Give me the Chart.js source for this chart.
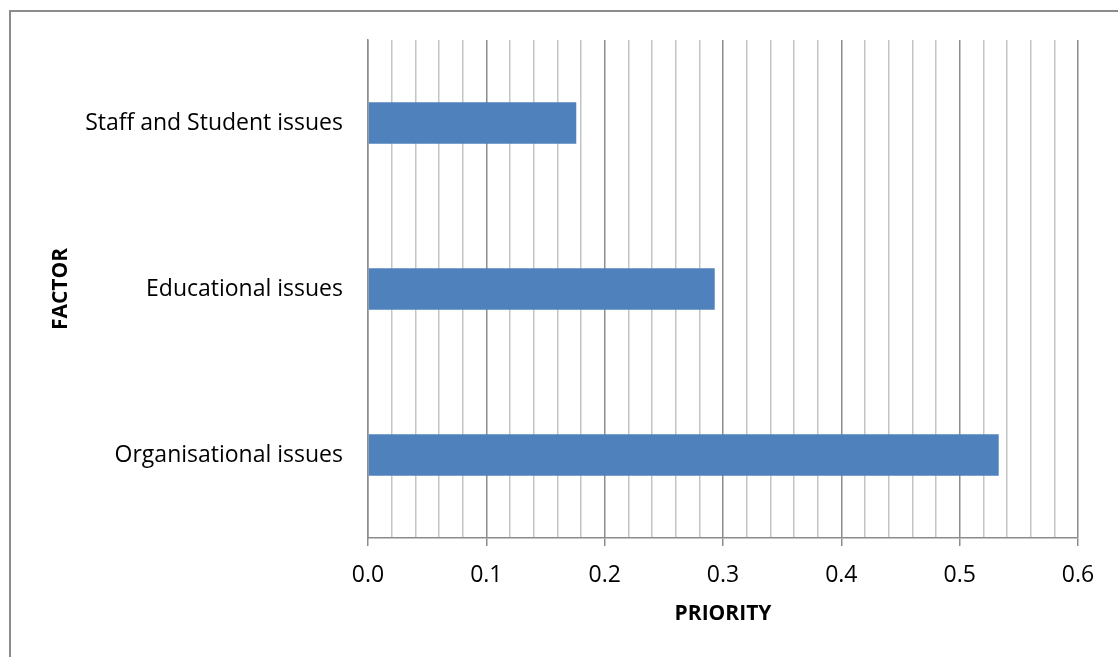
<!DOCTYPE html>
<html>
<head>
<meta charset="utf-8">
<script src="https://cdn.jsdelivr.net/npm/chart.js@4"></script>
<style>
  html, body { margin: 0; padding: 0; background: #fff; overflow: hidden; }
  #wrap { position: relative; width: 1118px; height: 657px; }
  #frame { position: absolute; left: 9px; top: 10px; width: 1200px; height: 800px;
           border: 2px solid #8c8c8c; box-sizing: border-box; }
  canvas { position: absolute; left: 0; top: 0; }
</style>
</head>
<body>
<div id="wrap">
  <div id="frame"></div>
  <canvas id="chart" width="1118" height="657"></canvas>
</div>
<script>
const factors = ["Staff and Student issues", "Educational issues", "Organisational issues"];
const priority = [0.176, 0.293, 0.533];
const axisMin = 0;
const axisMax = 0.6;
const minorStep = 0.02;

const FONT = "'Open Sans', Lato, sans-serif";
const majorGrid = "#8c8c8c";
const minorGrid = "#c4c4c4";

function isMajor(ctx) {
    return ctx.index % 5 === 0;
}

const canvas = document.getElementById("chart");
const ctx = canvas.getContext("2d");

new Chart(ctx, {
    type: "bar",
    data: {
        labels: factors,
        datasets: [
            {
                label: "Priority",
                data: priority,
                backgroundColor: "#4f81bd",
                categoryPercentage: 0.25,
                barPercentage: 1.0
            }
        ]
    },
    options: {
        indexAxis: "y",
        responsive: false,
        animation: false,
        layout: { padding: { left: 48, right: 40, top: 40, bottom: 30 } },
        plugins: { legend: { display: false }, tooltip: { enabled: false } },
        scales: {
            x: {
                min: axisMin,
                max: axisMax,
                ticks: {
                    stepSize: minorStep,
                    autoSkip: false,
                    maxRotation: 0,
                    padding: 16,
                    color: "#000",
                    font: { family: FONT, size: 23 },
                    callback: (value, index) => index % 5 === 0 ? Number(value).toFixed(1) : ""
                },
                grid: {
                    color: c => isMajor(c) ? majorGrid : minorGrid,
                    tickColor: c => isMajor(c) ? majorGrid : "rgba(0,0,0,0)",
                    lineWidth: 1.5,
                    tickLength: 8
                },
                border: { color: majorGrid, width: 1.5 },
                title: {
                    display: true,
                    text: "PRIORITY",
                    color: "#000",
                    font: { family: FONT, size: 21, weight: "bold" },
                    padding: 0
                },
                afterFit: scale => { scale.height = 89; }
            },
            y: {
                ticks: {
                    padding: 25,
                    color: "#000",
                    font: { family: FONT, size: 23 }
                },
                grid: { display: false, drawTicks: false },
                border: { color: majorGrid, width: 1.5 },
                title: {
                    display: true,
                    text: "FACTOR",
                    color: "#000",
                    font: { family: FONT, size: 21, weight: "bold" },
                    padding: 0
                },
                afterFit: scale => { scale.width = 320; }
            }
        }
    }
});
</script>
</body>
</html>
